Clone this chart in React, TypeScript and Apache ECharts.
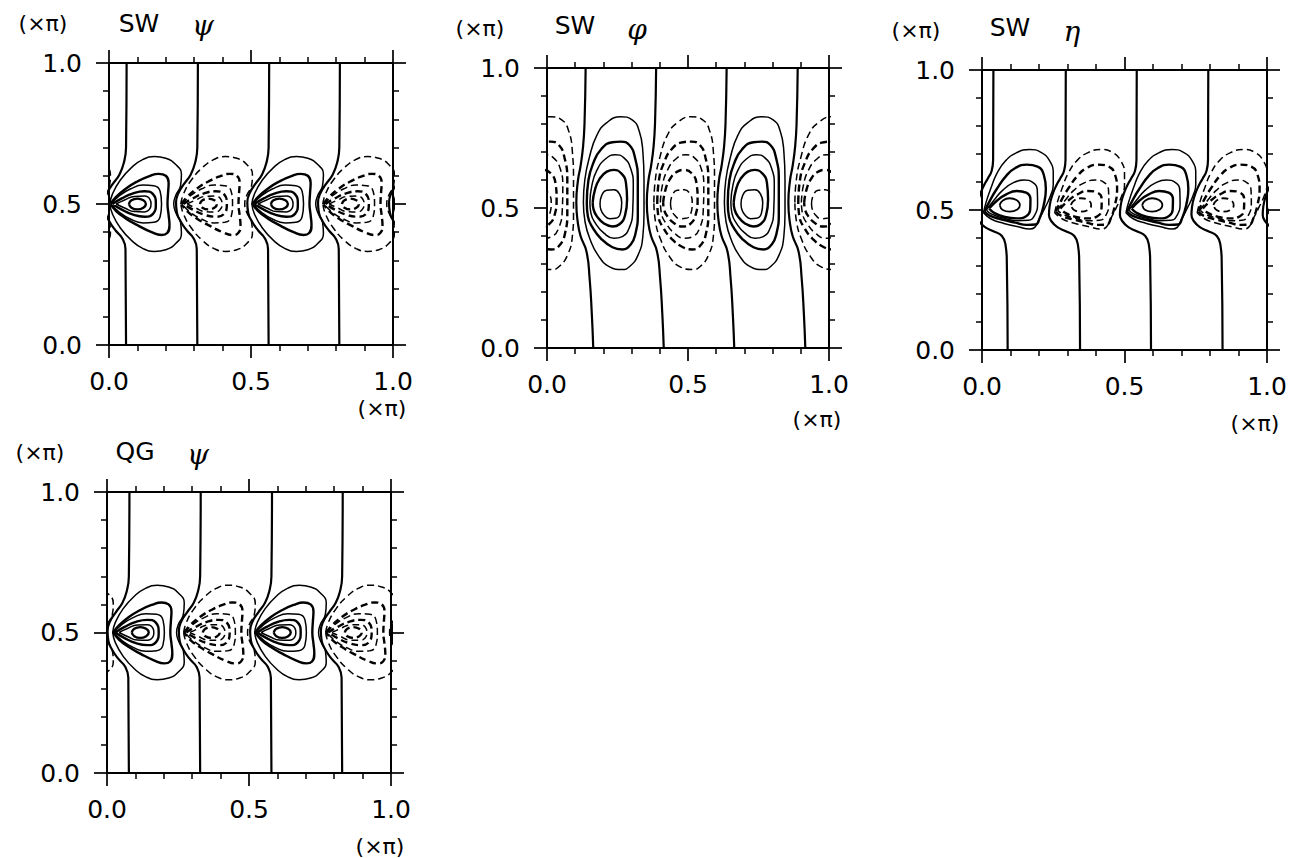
import React, { useEffect, useRef } from "react";
import * as echarts from "echarts";

// ---------- tick labels & texts ----------
const TICK_LABELS = ["0.0", "0.5", "1.0"];
const UNIT = "(×π)";
const PANEL_MODELS = ["SW", "SW", "SW", "QG"];
const PANEL_VARS = ["ψ", "φ", "η", "ψ"];

// ---------- SW ψ (panel 1) ----------
const swPsiSolidCenters = [0.1, 0.6, 1.1];
const swPsiDashedCenters = [-0.15, 0.35, 0.85];
const swPsiZeroTops = [0.062, 0.313, 0.564, 0.813, 1.063];

// ---------- QG ψ (panel 4) ----------
const qgPsiSolidCenters = [0.117, 0.617, 1.117];
const qgPsiDashedCenters = [-0.133, 0.367, 0.867];
const qgPsiZeroTops = [0.079, 0.33, 0.581, 0.83, 1.08];

// ψ contour loops, [offset from vortex centre, y]
const psiL1 = [[-0.03, 0.5], [-0.021, 0.513], [0, 0.519], [0.021, 0.513], [0.03, 0.5], [0.021, 0.487], [0, 0.481], [-0.021, 0.487]];
const psiL2 = [[-0.075, 0.5], [-0.045, 0.514], [-0.01, 0.527], [0.025, 0.528], [0.045, 0.515], [0.048, 0.5], [0.045, 0.485], [0.025, 0.472], [-0.01, 0.473], [-0.045, 0.486]];
const psiL3 = [[-0.088, 0.5], [-0.055, 0.52], [-0.015, 0.538], [0.025, 0.545], [0.055, 0.535], [0.065, 0.5], [0.055, 0.465], [0.025, 0.455], [-0.015, 0.462], [-0.055, 0.48]];
const psiL4 = [[-0.093, 0.5], [-0.065, 0.528], [-0.025, 0.553], [0.02, 0.567], [0.058, 0.565], [0.08, 0.545], [0.085, 0.5], [0.08, 0.455], [0.058, 0.435], [0.02, 0.433], [-0.025, 0.447], [-0.065, 0.472]];
const psiL5 = [[-0.095, 0.5], [-0.075, 0.525], [-0.04, 0.555], [0.0, 0.58], [0.04, 0.598], [0.075, 0.607], [0.1, 0.6], [0.11, 0.575], [0.108, 0.54], [0.106, 0.5], [0.11, 0.46], [0.113, 0.425], [0.105, 0.397], [0.085, 0.39], [0.05, 0.4], [0.0, 0.425], [-0.04, 0.448], [-0.075, 0.475]];
const psiL6 = [[-0.097, 0.5], [-0.088, 0.535], [-0.06, 0.585], [-0.02, 0.63], [0.02, 0.658], [0.06, 0.668], [0.1, 0.662], [0.135, 0.64], [0.155, 0.605], [0.152, 0.565], [0.135, 0.53], [0.128, 0.5], [0.135, 0.47], [0.152, 0.435], [0.155, 0.395], [0.135, 0.36], [0.1, 0.338], [0.06, 0.332], [0.02, 0.342], [-0.02, 0.37], [-0.06, 0.415], [-0.088, 0.465]];
const psiLoops = [psiL1, psiL2, psiL3, psiL4, psiL5, psiL6];
const psiWidths = [2.4, 1.5, 2.4, 1.5, 2.4, 1.5];
const psiZeroShape = [[0, 1.0], [-0.002, 0.7], [-0.01, 0.645], [-0.025, 0.605], [-0.048, 0.572], [-0.068, 0.54], [-0.077, 0.505], [-0.074, 0.47], [-0.06, 0.437], [-0.038, 0.405], [-0.015, 0.378], [-0.004, 0.34], [-0.002, 0.0]];

// ---------- SW φ (panel 2) ----------
const swPhiSolidCenters = [0.222, 0.722];
const swPhiDashedCenters = [-0.028, 0.472, 0.972];
const swPhiZeroTops = [0.137, 0.387, 0.637, 0.889];
const phiL1 = [[-0.034, 0.515], [-0.028, 0.545], [-0.01, 0.563], [0.015, 0.565], [0.035, 0.55], [0.043, 0.52], [0.038, 0.48], [0.02, 0.463], [0.0, 0.462], [-0.02, 0.475], [-0.031, 0.495]];
const phiL2 = [[-0.06, 0.52], [-0.052, 0.565], [-0.035, 0.605], [-0.01, 0.63], [0.015, 0.636], [0.04, 0.625], [0.058, 0.59], [0.062, 0.53], [0.055, 0.475], [0.035, 0.442], [0.01, 0.434], [-0.02, 0.445], [-0.045, 0.47], [-0.057, 0.495]];
const phiL3 = [[-0.07, 0.52], [-0.063, 0.58], [-0.045, 0.635], [-0.015, 0.675], [0.02, 0.69], [0.05, 0.68], [0.075, 0.64], [0.084, 0.58], [0.082, 0.49], [0.07, 0.43], [0.045, 0.398], [0.015, 0.392], [-0.02, 0.41], [-0.05, 0.445], [-0.066, 0.48]];
const phiL4 = [[-0.081, 0.52], [-0.075, 0.6], [-0.058, 0.66], [-0.03, 0.71], [0.01, 0.735], [0.04, 0.737], [0.07, 0.725], [0.09, 0.68], [0.1, 0.6], [0.1, 0.48], [0.092, 0.41], [0.075, 0.37], [0.045, 0.352], [0.01, 0.36], [-0.03, 0.39], [-0.06, 0.43], [-0.077, 0.47]];
const phiL5 = [[-0.093, 0.52], [-0.088, 0.6], [-0.072, 0.68], [-0.045, 0.76], [-0.01, 0.805], [0.04, 0.826], [0.08, 0.815], [0.105, 0.775], [0.118, 0.7], [0.122, 0.6], [0.122, 0.48], [0.118, 0.4], [0.1, 0.33], [0.07, 0.29], [0.045, 0.28], [0.0, 0.29], [-0.04, 0.33], [-0.07, 0.39], [-0.087, 0.45]];
const phiLoops = [phiL1, phiL2, phiL3, phiL4, phiL5];
const phiWidths = [1.5, 2.4, 1.5, 2.4, 1.5];
const phiZeroShape = [[0, 1.0], [-0.004, 0.8], [-0.009, 0.72], [-0.018, 0.65], [-0.027, 0.6], [-0.033, 0.52], [-0.028, 0.45], [-0.018, 0.4], [0.003, 0.345], [0.014, 0.25], [0.022, 0.12], [0.027, 0.0]];

// ---------- SW η (panel 3) ----------
const swEtaSolidCenters = [0.097, 0.597, 1.097];
const swEtaDashedCenters = [-0.153, 0.347, 0.847];
const swEtaZeroTops = [0.04, 0.294, 0.543, 0.794, 1.044];
const etaL1 = [[-0.035, 0.518], [-0.024, 0.534], [0.0, 0.542], [0.024, 0.536], [0.036, 0.518], [0.027, 0.502], [0.0, 0.494], [-0.024, 0.5]];
const etaL2 = [[-0.072, 0.505], [-0.045, 0.533], [-0.012, 0.556], [0.025, 0.568], [0.058, 0.562], [0.073, 0.538], [0.072, 0.5], [0.058, 0.478], [0.025, 0.47], [-0.02, 0.476], [-0.055, 0.49]];
const etaL3 = [[-0.082, 0.5], [-0.055, 0.535], [-0.025, 0.57], [0.01, 0.596], [0.05, 0.607], [0.082, 0.598], [0.097, 0.57], [0.098, 0.525], [0.088, 0.482], [0.065, 0.463], [0.025, 0.462], [-0.025, 0.472], [-0.065, 0.486]];
const etaL4 = [[-0.088, 0.495], [-0.066, 0.54], [-0.042, 0.58], [-0.012, 0.622], [0.02, 0.65], [0.06, 0.662], [0.098, 0.655], [0.12, 0.625], [0.127, 0.575], [0.12, 0.52], [0.105, 0.47], [0.09, 0.448], [0.06, 0.447], [0.02, 0.455], [-0.03, 0.467], [-0.07, 0.48]];
const etaL5 = [[-0.092, 0.49], [-0.082, 0.53], [-0.065, 0.58], [-0.045, 0.63], [-0.015, 0.675], [0.025, 0.705], [0.07, 0.716], [0.11, 0.706], [0.14, 0.676], [0.153, 0.63], [0.153, 0.59], [0.143, 0.55], [0.125, 0.51], [0.105, 0.47], [0.088, 0.438], [0.07, 0.432], [0.03, 0.44], [-0.02, 0.452], [-0.065, 0.468]];
const etaLoops = [etaL1, etaL2, etaL3, etaL4, etaL5];
const etaWidths = [1.8, 2.4, 1.5, 2.4, 1.5];
const etaZeroShape = [[0, 1.0], [-0.001, 0.68], [-0.006, 0.64], [-0.02, 0.612], [-0.032, 0.59], [-0.047, 0.554], [-0.057, 0.512], [-0.059, 0.482], [-0.049, 0.458], [-0.028, 0.438], [0.0, 0.424], [0.03, 0.407], [0.043, 0.372], [0.047, 0.32], [0.05, 0.0]];

// ---------- layout ----------
const GRIDS = [
  { left: 109, top: 63, width: 284, height: 282 },
  { left: 547, top: 68, width: 282, height: 280 },
  { left: 982, top: 70, width: 285, height: 280 },
  { left: 107, top: 492, width: 284, height: 281 },
];

const PANELS = [
  { solid: swPsiSolidCenters, dashed: swPsiDashedCenters, zeros: swPsiZeroTops, loops: psiLoops, widths: psiWidths, zero: psiZeroShape },
  { solid: swPhiSolidCenters, dashed: swPhiDashedCenters, zeros: swPhiZeroTops, loops: phiLoops, widths: phiWidths, zero: phiZeroShape },
  { solid: swEtaSolidCenters, dashed: swEtaDashedCenters, zeros: swEtaZeroTops, loops: etaLoops, widths: etaWidths, zero: etaZeroShape },
  { solid: qgPsiSolidCenters, dashed: qgPsiDashedCenters, zeros: qgPsiZeroTops, loops: psiLoops, widths: psiWidths, zero: psiZeroShape },
];

const TITLE_POS = [
  { unit: [43, 23], model: [139, 23], v: [203, 25] },
  { unit: [480, 28], model: [575, 25], v: [637, 29] },
  { unit: [916, 30], model: [1010, 27], v: [1072, 31] },
  { unit: [40, 452], model: [135, 451], v: [198, 454] },
];
const UNIT_POS = [[382, 408], [817, 419], [1255, 423], [380, 846]];

const FONT_NAME = "DejaVu Sans";

function axisCommon(gi: number, position: string, showLabel: boolean, isX: boolean) {
  return {
    gridIndex: gi,
    type: "value",
    min: 0,
    max: 1,
    interval: 0.5,
    position,
    axisLine: { show: true, onZero: false, lineStyle: { color: "#000", width: 2 } },
    axisTick: { show: true, inside: false, length: 13, lineStyle: { color: "#000", width: 1.7 } },
    minorTick: { show: true, splitNumber: 5, length: 6, lineStyle: { color: "#000", width: 1.5 } },
    splitLine: { show: false },
    minorSplitLine: { show: false },
    axisLabel: {
      show: showLabel,
      margin: isX ? 24 : 27,
      fontSize: 25,
      color: "#000",
      fontFamily: FONT_NAME,
      formatter: (v: number) => TICK_LABELS[Math.round(v / 0.5)],
    },
  };
}

function buildOption() {
  const xAxis: any[] = [];
  const yAxis: any[] = [];
  const series: any[] = [];
  GRIDS.forEach((_, gi) => {
    xAxis.push(axisCommon(gi, "bottom", true, true));
    xAxis.push(axisCommon(gi, "top", false, true));
    yAxis.push(axisCommon(gi, "left", true, false));
    yAxis.push(axisCommon(gi, "right", false, false));
    const p = PANELS[gi];
    const addLoop = (c: number, loop: number[][], width: number, dashed: boolean) => {
      const data = loop.map((pt) => [c + pt[0], pt[1]]);
      data.push([c + loop[0][0], loop[0][1]]);
      series.push({
        type: "line",
        xAxisIndex: gi * 2,
        yAxisIndex: gi * 2,
        data,
        smooth: 0.5,
        symbol: "none",
        silent: true,
        clip: true,
        lineStyle: { color: "#000", width, type: dashed ? [7, 4] : "solid" },
      });
    };
    p.solid.forEach((c) => p.loops.forEach((l, li) => addLoop(c, l, p.widths[li], false)));
    p.dashed.forEach((c) => p.loops.forEach((l, li) => addLoop(c, l, p.widths[li], true)));
    p.zeros.forEach((x0) => {
      series.push({
        type: "line",
        xAxisIndex: gi * 2,
        yAxisIndex: gi * 2,
        data: p.zero.map((pt) => [x0 + pt[0], pt[1]]),
        smooth: 0.5,
        symbol: "none",
        silent: true,
        clip: true,
        lineStyle: { color: "#000", width: 2.2 },
      });
    });
  });

  const graphic: any[] = [];
  TITLE_POS.forEach((t, i) => {
    graphic.push({ type: "text", x: t.unit[0], y: t.unit[1], style: { text: UNIT, fontSize: 22, fontFamily: FONT_NAME, fill: "#000", align: "center", verticalAlign: "middle" } });
    graphic.push({ type: "text", x: t.model[0], y: t.model[1], style: { text: PANEL_MODELS[i], fontSize: 25, fontFamily: FONT_NAME, fill: "#000", align: "center", verticalAlign: "middle" } });
    graphic.push({ type: "text", x: t.v[0], y: t.v[1], style: { text: PANEL_VARS[i], fontSize: 28, fontStyle: "italic", fontFamily: "DejaVu Serif", fill: "#000", align: "center", verticalAlign: "middle" } });
  });
  UNIT_POS.forEach((u) => {
    graphic.push({ type: "text", x: u[0], y: u[1], style: { text: UNIT, fontSize: 22, fontFamily: FONT_NAME, fill: "#000", align: "center", verticalAlign: "middle" } });
  });

  return {
    animation: false,
    backgroundColor: "#fff",
    grid: GRIDS.map((g) => ({ ...g, containLabel: false })),
    xAxis,
    yAxis,
    series,
    graphic,
  };
}

export default function App() {
  const ref = useRef<HTMLDivElement>(null);
  useEffect(() => {
    if (!ref.current) return;
    const chart = echarts.init(ref.current, undefined, { renderer: "svg" });
    chart.setOption(buildOption() as any);
    return () => chart.dispose();
  }, []);
  return <div ref={ref} style={{ position: "absolute", left: 0, top: 0, width: 1308, height: 858, background: "#fff" }} />;
}
